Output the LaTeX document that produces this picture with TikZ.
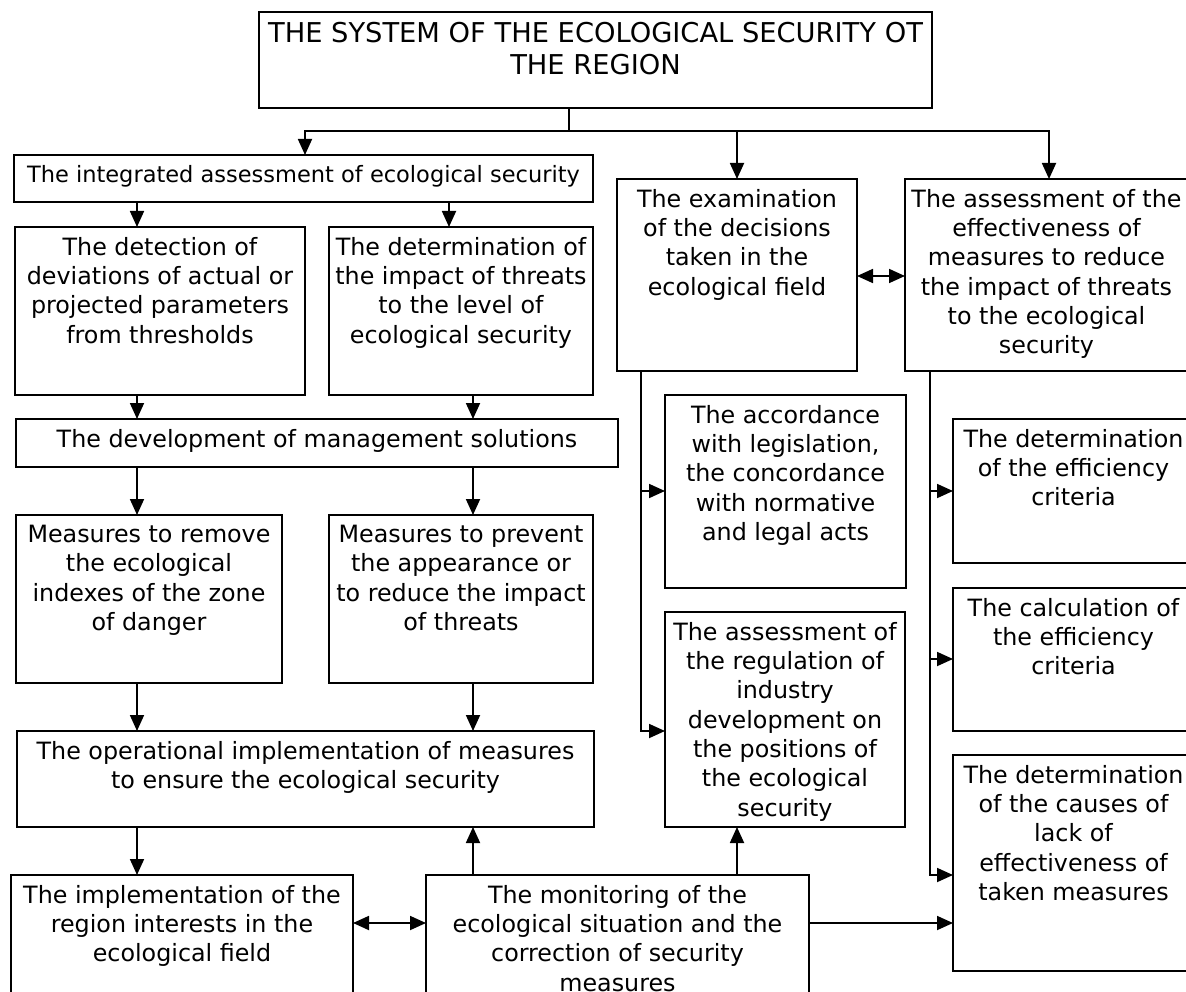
\documentclass[tikz,border=0pt]{standalone}
\usepackage{fontspec}
\setmainfont{DejaVu Sans}
\usetikzlibrary{arrows.meta}
% box: name, left, top, right, bottom, text (top-aligned, centred)
\newcommand\mkbox[7][]{%
  \node[box, minimum width=#5-#3, minimum height=#6-#4] (#2) at (#3,#4) {};
  \node[lbl, #1] (#2-t) at ([yshift=-10pt]#2.north) {#7};}
\begin{document}
\begin{tikzpicture}[x=1pt,y=-1pt,
  box/.style={draw, line width=1.5pt, inner sep=0pt, outer sep=0pt, anchor=north west},
  lbl/.style={anchor=north, align=center, inner sep=0pt, font=\fontsize{23.8}{29.3}\selectfont},
  link/.style={line width=1.8pt},
  tip/.tip={Triangle[length=16pt,width=14pt]},
  arr/.style={link, -tip},
  darr/.style={link, tip-tip}]
\useasboundingbox (0,0) rectangle (1186,992);

% title
\node[box, minimum width=673, minimum height=96] (top) at (259,12) {};
\node[lbl, font=\fontsize{27.3}{32}\selectfont] (top-t) at ([yshift=-10.5pt]top.north)
  {THE SYSTEM OF THE ECOLOGICAL SECURITY OT\\THE REGION};

% left column
\mkbox[font=\fontsize{22.5}{29}\selectfont]{integ}{14}{155}{593}{202}{The integrated assessment of ecological security}
\mkbox{detect}{15}{227}{305}{395}{The detection of\\deviations of actual or\\projected parameters\\from thresholds}
\mkbox{determ}{329}{227}{593}{395}{The determination of\\the impact of threats\\to the level of\\ecological security}
\mkbox{develop}{16}{419}{618}{467}{The development of management solutions}
\mkbox{measL}{16}{515}{282}{683}{Measures to remove\\the ecological\\indexes of the zone\\of danger}
\mkbox{measR}{329}{515}{593}{683}{Measures to prevent\\the appearance or\\to reduce the impact\\of threats}
\mkbox{oper}{17}{731}{594}{827}{The operational implementation of measures\\to ensure the ecological security}
\mkbox{impl}{11}{875}{353}{1000}{The implementation of the\\region interests in the\\ecological field}
\mkbox{monit}{426}{875}{809}{1000}{The monitoring of the\\ecological situation and the\\correction of security\\measures}

% right part
\mkbox{exam}{617}{179}{857}{371}{The examination\\of the decisions\\taken in the\\ecological field}
\mkbox{assess}{905}{179}{1188}{371}{The assessment of the\\effectiveness of\\measures to reduce\\the impact of threats\\to the ecological\\security}
\mkbox{acc}{665}{395}{906}{588}{The accordance\\with legislation,\\the concordance\\with normative\\and legal acts}
\mkbox{regul}{665}{612}{905}{827}{The assessment of\\the regulation of\\industry\\development on\\the positions of\\the ecological\\security}
\mkbox{eff}{953}{419}{1194}{563}{The determination\\of the efficiency\\criteria}
\mkbox{calc}{953}{588}{1194}{731}{The calculation of\\the efficiency\\criteria}
\mkbox{causes}{953}{755}{1194}{971}{The determination\\of the causes of\\lack of\\effectiveness of\\taken measures}

% guide positions for connectors
\coordinate (X137) at (137,0);
\coordinate (X305) at (305,0);
\coordinate (X449) at (449,0);
\coordinate (X473) at (473,0);
\coordinate (X569) at (569,0);
\coordinate (X641) at (641,0);
\coordinate (X737) at (737,0);
\coordinate (X930) at (930,0);
\coordinate (X1049) at (1049,0);
\coordinate (Y131) at (0,131);
\coordinate (Y276) at (0,276);
\coordinate (Y491) at (0,491);
\coordinate (Y659) at (0,659);
\coordinate (Y731) at (0,731);
\coordinate (Y875) at (0,875);
\coordinate (Y923) at (0,923);

% connectors
\draw[link] (top.south -| X569) -- (X569 |- Y131);
\draw[arr] (X569 |- Y131) -| (integ.north -| X305);
\draw[arr] (X569 |- Y131) -| (exam.north -| X737);
\draw[arr] (X569 |- Y131) -| (assess.north -| X1049);

\draw[arr] (integ.south -| X137) -- (detect.north -| X137);
\draw[arr] (integ.south -| X449) -- (determ.north -| X449);
\draw[arr] (detect.south -| X137) -- (develop.north -| X137);
\draw[arr] (determ.south -| X473) -- (develop.north -| X473);
\draw[arr] (develop.south -| X137) -- (measL.north -| X137);
\draw[arr] (develop.south -| X473) -- (measR.north -| X473);
\draw[arr] (measL.south -| X137) -- (oper.north -| X137);
\draw[arr] (measR.south -| X473) -- (oper.north -| X473);
\draw[arr] (oper.south -| X137) -- (impl.north -| X137);
\draw[arr] (monit.north -| X473) -- (oper.south -| X473);
\draw[arr] (monit.north -| X737) -- (regul.south -| X737);
\draw[darr] (impl.east |- Y923) -- (monit.west |- Y923);
\draw[arr] (monit.east |- Y923) -- (causes.west |- Y923);

\draw[darr] (exam.east |- Y276) -- (assess.west |- Y276);
\draw[arr] (exam.south -| X641) |- (regul.west |- Y731);
\draw[arr] (X641 |- Y491) -- (acc.west |- Y491);
\draw[arr] (assess.south -| X930) |- (causes.west |- Y875);
\draw[arr] (X930 |- Y491) -- (eff.west |- Y491);
\draw[arr] (X930 |- Y659) -- (calc.west |- Y659);
\end{tikzpicture}
\end{document}
